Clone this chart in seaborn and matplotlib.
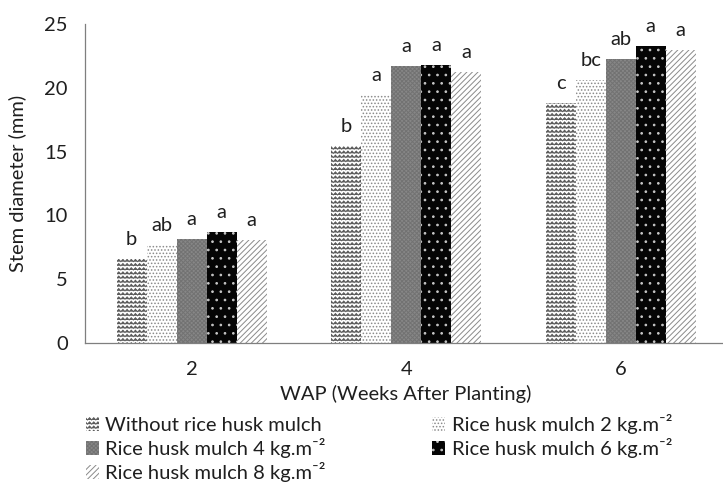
import warnings
warnings.filterwarnings("ignore")
import numpy as np
import pandas as pd
import matplotlib
matplotlib.use("Agg")
import matplotlib.pyplot as plt
import seaborn as sns
from matplotlib import hatch as mhatch
from matplotlib.path import Path
from matplotlib.patches import Patch

# ---------------- data ----------------
weeks = ["2", "4", "6"]
treatments = [
    "Without rice husk mulch",
    "Rice husk mulch 2 kg.m⁻²",
    "Rice husk mulch 4 kg.m⁻²",
    "Rice husk mulch 6 kg.m⁻²",
    "Rice husk mulch 8 kg.m⁻²",
]
without_mulch = [6.55, 15.42, 18.78]
mulch_2 = [7.65, 19.44, 20.60]
mulch_4 = [8.15, 21.72, 22.25]
mulch_6 = [8.70, 21.80, 23.30]
mulch_8 = [8.05, 21.26, 22.95]
letters_without = ["b", "b", "c"]
letters_2 = ["ab", "a", "bc"]
letters_4 = ["a", "a", "ab"]
letters_6 = ["a", "a", "a"]
letters_8 = ["a", "a", "a"]
yticks = [0, 5, 10, 15, 20, 25]

series = [without_mulch, mulch_2, mulch_4, mulch_6, mulch_8]
letters = [letters_without, letters_2, letters_4, letters_6, letters_8]

rows = []
for t, vals in zip(treatments, series):
    for w, v in zip(weeks, vals):
        rows.append({"WAP": w, "Treatment": t, "value": v})
df = pd.DataFrame(rows)


# ---------------- custom zigzag hatch ----------------
class ZigZagHatch(mhatch.HatchPatternBase):
    def __init__(self, hatch, density):
        self.num_rows = int(hatch.count("z") * density)
        self.num_per = self.num_rows
        self.num_vertices = self.num_rows * (2 * self.num_per + 1)

    def set_vertices_and_codes(self, vertices, codes):
        n = self.num_rows
        k = self.num_per
        step = 1.0 / n
        xs = np.linspace(0.0, 1.0, 2 * k + 1)
        amp = np.tile([0.0, 0.55 * step], k + 1)[: 2 * k + 1]
        idx = 0
        for r in range(n):
            y0 = r * step + 0.2 * step
            for j in range(2 * k + 1):
                vertices[idx, 0] = xs[j]
                vertices[idx, 1] = y0 + amp[j]
                codes[idx] = Path.MOVETO if j == 0 else Path.LINETO
                idx += 1


mhatch._hatch_types.append(ZigZagHatch)

# ---------------- style ----------------
sns.set_style("white")
FONT = ["Lato", "DejaVu Sans"]
plt.rcParams["font.family"] = FONT
plt.rcParams["hatch.linewidth"] = 0.7
TXT = "#1f1f1f"
FS = 14.5

styles = [
    dict(facecolor="white", hatch="zzzz", edgecolor="#5a5a5a"),
    dict(facecolor="white", hatch=".....", edgecolor="#8a8a8a"),
    dict(facecolor="#878787", hatch="xxxxxxxx", edgecolor="#727272"),
    dict(facecolor="#050505", hatch="..", edgecolor="#c8c8c8"),
    dict(facecolor="white", hatch="//////", edgecolor="#8a8a8a"),
]

fig = plt.figure(figsize=(7.23, 4.90), dpi=100)
ax = fig.add_axes([84.5 / 723, 1 - 343 / 490, 643.5 / 723, (343 - 24) / 490])

sns.barplot(data=df, x="WAP", y="value", hue="Treatment", order=weeks,
            hue_order=treatments, errorbar=None, width=0.7, gap=0,
            legend=False, ax=ax)

for cont, st, labs in zip(ax.containers, styles, letters):
    for bar, lab in zip(cont, labs):
        bar.set_facecolor(st["facecolor"])
        bar.set_edgecolor(st["edgecolor"])
        bar.set_hatch(st["hatch"])
        bar.set_linewidth(0)
        ax.annotate(lab, (bar.get_x() + bar.get_width() / 2, bar.get_height()),
                    xytext=(0, 8), textcoords="offset points", ha="center",
                    va="bottom", fontsize=FS, color=TXT)

ax.set_xlim(-0.5, 2.5)
ax.set_ylim(0, 25)
ax.set_yticks(yticks)
ax.set_yticklabels([str(v) for v in yticks])
ax.set_xticks(range(len(weeks)))
ax.set_xticklabels(weeks)
ax.set_xticks([-0.5, 0.5, 1.5, 2.5], minor=True)
ax.tick_params(axis="x", which="major", length=0, pad=13, labelsize=FS, labelcolor=TXT)
ax.tick_params(axis="x", which="minor", length=8, width=0.9, color="#7f7f7f", direction="out")
ax.tick_params(axis="y", length=7, width=0.9, color="#7f7f7f", direction="out",
               pad=5, labelsize=FS, labelcolor=TXT)
for s in ["top", "right"]:
    ax.spines[s].set_visible(False)
for s in ["left", "bottom"]:
    ax.spines[s].set_color("#7f7f7f")
    ax.spines[s].set_linewidth(0.9)
ax.set_xlabel("")
ax.set_ylabel("")

fig.text(17 / 723, 1 - 183 / 490, "Stem diameter (mm)", rotation=90,
         ha="center", va="center", fontsize=FS, color=TXT)
fig.text(406 / 723, 1 - 394 / 490, "WAP (Weeks After Planting)",
         ha="center", va="center", fontsize=FS, color=TXT)

handles = [Patch(facecolor=st["facecolor"], edgecolor=st["edgecolor"],
                 hatch=st["hatch"], linewidth=0) for st in styles]
order = [0, 2, 4, 1, 3]
leg = fig.legend([handles[i] for i in order], [treatments[i] for i in order],
                 ncol=2, loc="upper left", bbox_to_anchor=(86 / 723, 1 - 414 / 490),
                 frameon=False, fontsize=FS, handlelength=0.65, handleheight=0.65,
                 handletextpad=0.3, columnspacing=5.3, labelspacing=0.2,
                 borderpad=0, borderaxespad=0)
for t in leg.get_texts():
    t.set_color(TXT)

fig.savefig("out.png", dpi=100)
